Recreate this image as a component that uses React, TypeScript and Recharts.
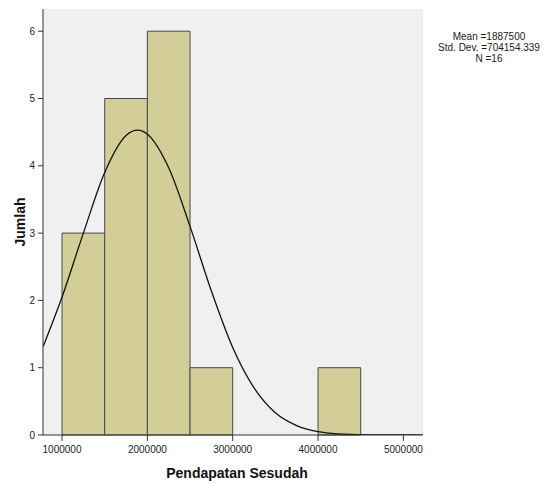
import { CartesianGrid, ComposedChart, Line, ReferenceArea, XAxis, YAxis } from "recharts"

// histogram bins, width 500000
const binStart = [1000000, 1500000, 2000000, 2500000, 3000000, 3500000, 4000000]
const binEnd = [1500000, 2000000, 2500000, 3000000, 3500000, 4000000, 4500000]
const binCounts = [3, 5, 6, 1, 0, 0, 1]

// normal curve
const curveX = [777500, 1000000, 1250000, 1500000, 1750000, 1887500, 2000000, 2250000, 2500000, 2750000,
    3000000, 3250000, 3500000, 3750000, 4000000, 4250000, 4500000, 4750000, 5000000, 5225000]
const curveY = [1.31, 2.05, 3.0, 3.9, 4.45, 4.53, 4.47, 3.97, 3.1, 2.14,
    1.3, 0.7, 0.33, 0.14, 0.05, 0.016, 0.005, 0.001, 0, 0]

const xTicks = [1000000, 2000000, 3000000, 4000000, 5000000]
const yTicks = [0, 1, 2, 3, 4, 5, 6]

const mean = "1887500"
const stdDev = "704154.339"
const n = "16"

const font = "'Liberation Sans', Arial, sans-serif"

const App = () => {
    const curve = curveX.map((x, i) => ({ x, y: curveY[i] }))
    const tick = { fontSize: 10, fill: "#222", fontFamily: font }

    return (
        <div style={{ position: "absolute", left: 0, top: 0, fontFamily: font }}>
            <ComposedChart
                width={543}
                height={484}
                data={curve}
                margin={{ top: 9, right: 120, left: 0, bottom: 19 }}
            >
                <CartesianGrid horizontal={false} vertical={false} fill="#f0f0f0" stroke="none" />
                <XAxis
                    xAxisId="x"
                    dataKey="x"
                    type="number"
                    domain={[777000, 5230000]}
                    allowDataOverflow
                    ticks={xTicks}
                    interval={0}
                    height={30}
                    tick={tick}
                    tickSize={6}
                    tickMargin={5}
                    stroke="#333"
                />
                <XAxis xAxisId="top" orientation="top" height={0} tick={false} tickLine={false} stroke="#333" />
                <YAxis
                    yAxisId="y"
                    type="number"
                    domain={[0, 6.33]}
                    allowDataOverflow
                    ticks={yTicks}
                    interval={0}
                    width={43}
                    tick={tick}
                    tickSize={5}
                    tickMargin={3}
                    stroke="#333"
                />
                <YAxis yAxisId="r" orientation="right" width={0} tick={false} tickLine={false} stroke="#333" />
                {binCounts.map((c, i) =>
                    c > 0 ? (
                        <ReferenceArea
                            key={i}
                            xAxisId="x"
                            yAxisId="y"
                            x1={binStart[i]}
                            x2={binEnd[i]}
                            y1={0}
                            y2={c}
                            fill="#d3ce97"
                            fillOpacity={1}
                            stroke="#4a4a4a"
                            strokeWidth={1}
                        />
                    ) : null
                )}
                <Line
                    xAxisId="x"
                    yAxisId="y"
                    dataKey="y"
                    type="monotone"
                    dot={false}
                    activeDot={false}
                    stroke="#111"
                    strokeWidth={1.3}
                    isAnimationActive={false}
                />
                <text x={20} y={222} transform="rotate(-90 20 222)" textAnchor="middle" dominantBaseline="central"
                    fontSize={14} fontWeight="bold" fill="#111" fontFamily={font}>Jumlah</text>
                <text x={237} y={478} textAnchor="middle" fontSize={14} fontWeight="bold" fill="#111"
                    fontFamily={font}>Pendapatan Sesudah</text>
                <text x={489} y={40} textAnchor="middle" fontSize={10} fill="#222" fontFamily={font}>Mean ={mean}</text>
                <text x={489} y={51} textAnchor="middle" fontSize={10} fill="#222" fontFamily={font}>Std. Dev. ={stdDev}</text>
                <text x={489} y={62} textAnchor="middle" fontSize={10} fill="#222" fontFamily={font}>N ={n}</text>
            </ComposedChart>
        </div>
    )
}

export default App
